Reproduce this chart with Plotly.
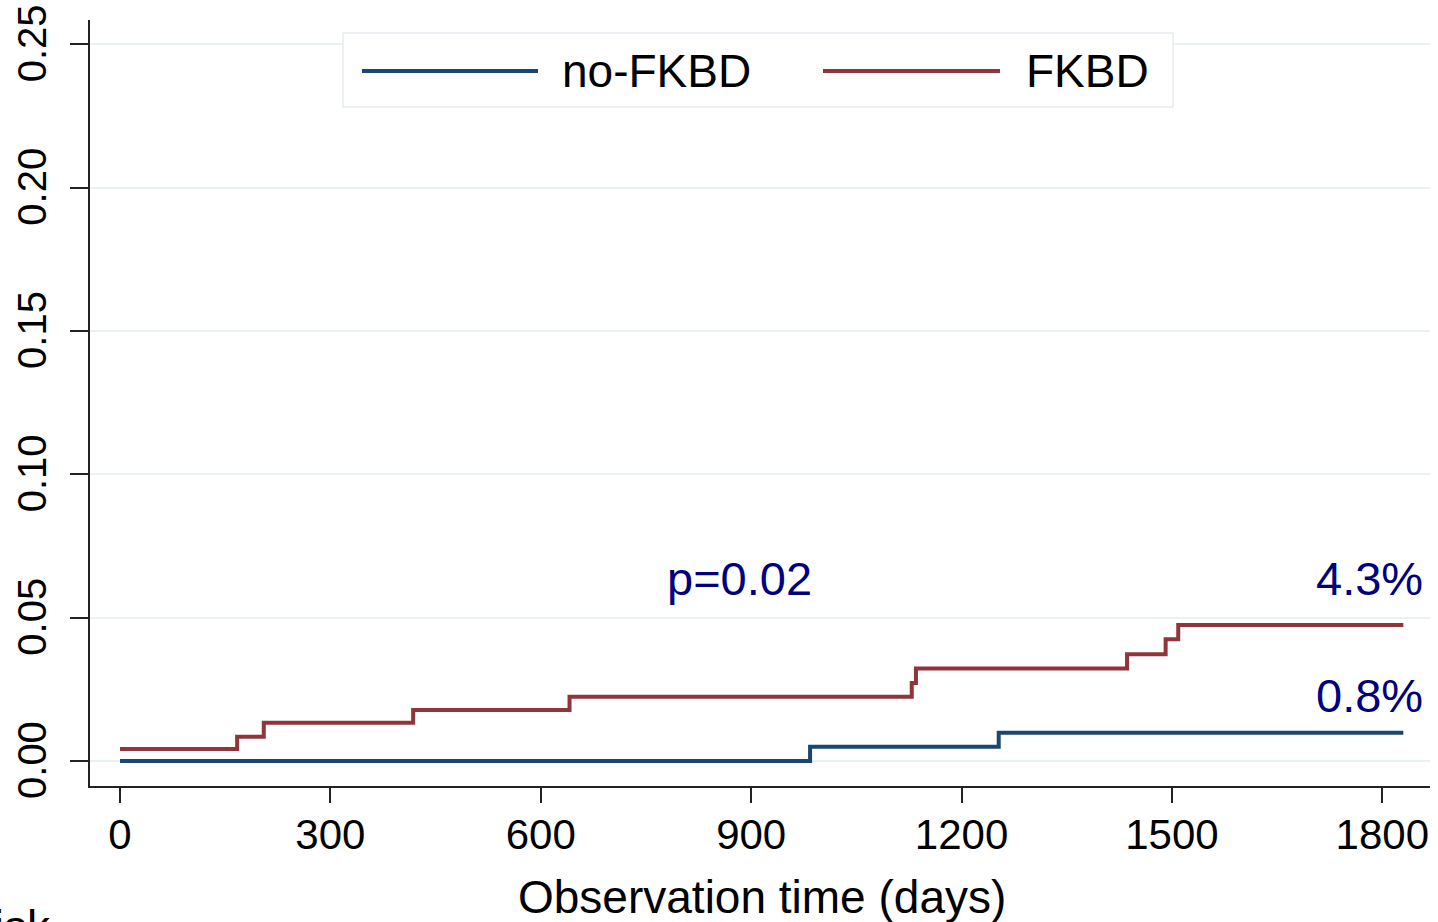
import plotly.graph_objects as go

# Cumulative incidence step data
days_nofkbd = [0, 984, 1253, 1830]
inc_nofkbd = [0.0, 0.0050, 0.0099, 0.0099]

days_fkbd = [0, 167, 205, 418, 641, 1129, 1135, 1436, 1491, 1509, 1830]
inc_fkbd = [0.0042, 0.0085, 0.0134, 0.0178, 0.0224, 0.0272, 0.0323, 0.0373, 0.0425, 0.0475, 0.0475]

x_ticks = [0, 300, 600, 900, 1200, 1500, 1800]
y_ticks = [0.00, 0.05, 0.10, 0.15, 0.20, 0.25]

BLUE = '#1a476f'
RED = '#90353b'
NAVY = '#00007f'
FONT = 'Arial, Liberation Sans, sans-serif'

W, H = 1438, 922
# plot box in screen pixels: left 90, right 1430, top 20, bottom 786
ML, MT = 90, 20
MR, MB = W - 1430, H - 786
PW, PH = W - ML - MR, H - MT - MB


def px_x(p):
    return (p - ML) / PW


def px_y(p):
    return (H - MB - p) / PH


fig = go.Figure()
fig.add_trace(go.Scatter(x=days_nofkbd, y=inc_nofkbd, mode='lines', line_shape='hv',
                         line=dict(color=BLUE, width=4), name='no-FKBD', showlegend=False))
fig.add_trace(go.Scatter(x=days_fkbd, y=inc_fkbd, mode='lines', line_shape='hv',
                         line=dict(color=RED, width=4), name='FKBD', showlegend=False))

# hand-drawn legend box, Stata style
shapes = [
    dict(type='rect', xref='paper', yref='paper', x0=px_x(343), x1=px_x(1173),
         y0=px_y(107), y1=px_y(33), line=dict(color='#e4ecf0', width=1.5), fillcolor='white', layer='above'),
    dict(type='line', xref='paper', yref='paper', x0=px_x(362), x1=px_x(538),
         y0=px_y(71), y1=px_y(71), line=dict(color=BLUE, width=4), layer='above'),
    dict(type='line', xref='paper', yref='paper', x0=px_x(823), x1=px_x(1000),
         y0=px_y(71), y1=px_y(71), line=dict(color=RED, width=4), layer='above'),
]

annotations = [
    dict(text='no-FKBD', xref='paper', yref='paper', x=px_x(560), y=px_y(71), xanchor='left',
         yanchor='middle', showarrow=False, font=dict(size=46, color='black', family=FONT)),
    dict(text='FKBD', xref='paper', yref='paper', x=px_x(1024), y=px_y(71), xanchor='left',
         yanchor='middle', showarrow=False, font=dict(size=46, color='black', family=FONT)),
    dict(text='p=0.02', xref='paper', yref='paper', x=px_x(739), y=px_y(578), xanchor='center',
         yanchor='middle', showarrow=False, font=dict(size=47, color=NAVY, family=FONT)),
    dict(text='4.3%', xref='paper', yref='paper', x=px_x(1425), y=px_y(578), xanchor='right',
         yanchor='middle', showarrow=False, font=dict(size=47, color=NAVY, family=FONT)),
    dict(text='0.8%', xref='paper', yref='paper', x=px_x(1425), y=px_y(695), xanchor='right',
         yanchor='middle', showarrow=False, font=dict(size=47, color=NAVY, family=FONT)),
    dict(text='Observation time (days)', xref='paper', yref='paper', x=px_x(762), y=px_y(897),
         xanchor='center', yanchor='middle', showarrow=False,
         font=dict(size=46, color='black', family=FONT)),
    dict(text='Number at risk', xref='paper', yref='paper', x=px_x(53), y=px_y(927),
         xanchor='right', yanchor='middle', showarrow=False,
         font=dict(size=46, color='black', family=FONT)),
]

fig.update_layout(
    width=W, height=H,
    margin=dict(l=ML, r=MR, t=MT, b=MB, autoexpand=False),
    paper_bgcolor='white', plot_bgcolor='white',
    shapes=shapes, annotations=annotations,
    xaxis=dict(range=[-42.8, 1868], tickvals=x_ticks, ticks='outside', ticklen=15, tickwidth=2,
               tickcolor='#222', showline=True, linecolor='#222', linewidth=2, showgrid=False,
               zeroline=False, tickfont=dict(size=42, color='black', family=FONT),
               ticklabelstandoff=-4, automargin=False, ticklabeloverflow='allow'),
    yaxis=dict(range=[-0.0087, 0.2585], tickvals=y_ticks, tickformat='.2f', tickangle=-90,
               ticks='outside', ticklen=18, tickwidth=2, tickcolor='#222', showline=True,
               linecolor='#222', linewidth=2, showgrid=True, gridcolor='#eaf1f3', gridwidth=2,
               zeroline=False, tickfont=dict(size=40, color='black', family=FONT),
               ticklabelstandoff=8, ticklabelshift=5, automargin=False,
               ticklabeloverflow='allow'),
)

# browser default body margin would shift the figure by 8px
fig.write_html("out.html", config={'displayModeBar': False},
               post_script="document.body.style.margin='0';")
